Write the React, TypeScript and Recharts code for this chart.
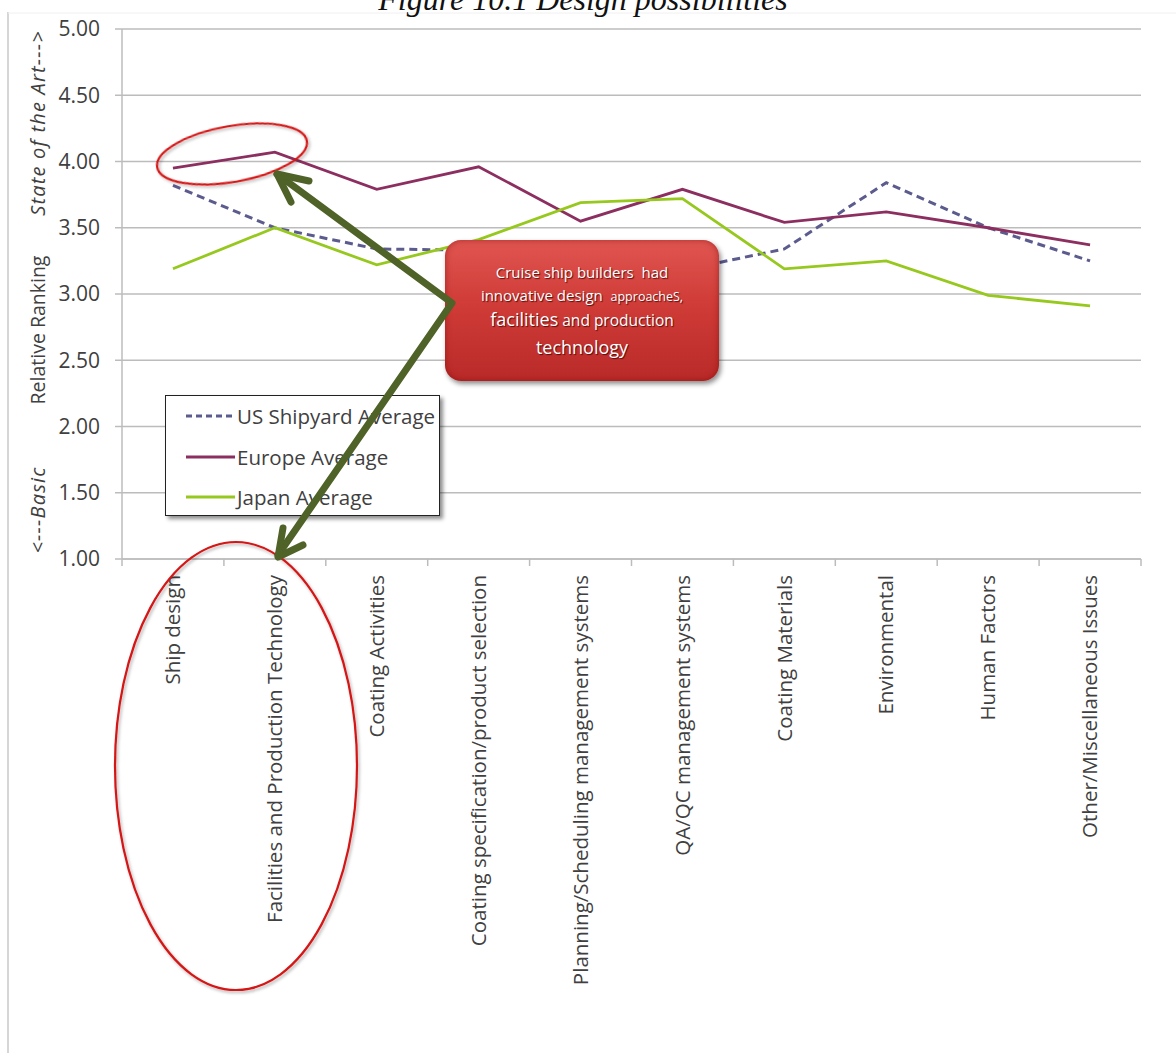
import React from "react";
import { LineChart, Line, XAxis, YAxis, CartesianGrid, Legend } from "recharts";

document.body.style.margin = "0";

const categories = [
  "Ship design",
  "Facilities and Production Technology",
  "Coating Activities",
  "Coating specification/product selection",
  "Planning/Scheduling management systems",
  "QA/QC management systems",
  "Coating Materials",
  "Environmental",
  "Human Factors",
  "Other/Miscellaneous Issues",
];

const usShipyard = [3.82, 3.5, 3.34, 3.33, 3.25, 3.18, 3.34, 3.84, 3.5, 3.25];
const europe = [3.95, 4.07, 3.79, 3.96, 3.55, 3.79, 3.54, 3.62, 3.5, 3.37];
const japan = [3.19, 3.5, 3.22, 3.41, 3.69, 3.72, 3.19, 3.25, 2.99, 2.91];

const yTicks = [1, 1.5, 2, 2.5, 3, 3.5, 4, 4.5, 5];

const data = categories.map((c, i) => ({
  category: c,
  us: usShipyard[i],
  europe: europe[i],
  japan: japan[i],
}));

const W = 1176;
const H = 1053;
const PLOT_LEFT = 122;
const PLOT_RIGHT = 1141;
const STEP = (PLOT_RIGHT - PLOT_LEFT) / categories.length;
const FONT = "'Open Sans', sans-serif";
const GRID = "#bcbcbc";

const XTick = (props: any) => {
  const { x, y, payload, index } = props;
  const ty = y + 16;
  return (
    <g>
      <line x1={x - STEP / 2} x2={x - STEP / 2} y1={y} y2={y + 7} stroke={GRID} strokeWidth={1.5} />
      {index === categories.length - 1 && (
        <line x1={x + STEP / 2} x2={x + STEP / 2} y1={y} y2={y + 7} stroke={GRID} strokeWidth={1.5} />
      )}
      <text
        x={x}
        y={ty}
        transform={`rotate(-90, ${x}, ${ty})`}
        textAnchor="end"
        dy="0.35em"
        fontSize={20.5}
        fontFamily={FONT}
        fill="#404040"
      >
        {payload.value}
      </text>
    </g>
  );
};

const legendItems = [
  { name: "US Shipyard Average", color: "#5b5b8e", dash: "6 4" },
  { name: "Europe Average", color: "#8c2f60", dash: undefined },
  { name: "Japan Average", color: "#96c81e", dash: undefined },
];

const LegendBox = () => (
  <div
    style={{
      width: 275,
      height: 121,
      border: "1.5px solid #222",
      background: "#fff",
      boxShadow: "3px 3px 4px rgba(0,0,0,0.45)",
      boxSizing: "border-box",
    }}
  >
    {legendItems.map((it) => (
      <div key={it.name} style={{ display: "flex", alignItems: "center", height: 40.5, whiteSpace: "nowrap" }}>
        <svg width={70} height={10} style={{ flexShrink: 0 }}>
          <line x1={20} x2={69} y1={5} y2={5} stroke={it.color} strokeWidth={3} strokeDasharray={it.dash} />
        </svg>
        <span style={{ fontFamily: FONT, fontSize: 20.5, color: "#404040", marginLeft: 1 }}>{it.name}</span>
      </div>
    ))}
  </div>
);

export default function App() {
  return (
    <div style={{ position: "relative", width: W, height: H, background: "#fff", overflow: "hidden" }}>
      <LineChart width={W} height={H} data={data} margin={{ top: 29, right: W - PLOT_RIGHT, bottom: 0, left: 0 }}>
        <CartesianGrid vertical={false} stroke={GRID} strokeWidth={1.5} />
        <XAxis
          dataKey="category"
          interval={0}
          height={H - 559}
          padding={{ left: STEP / 2, right: STEP / 2 }}
          tickLine={false}
          tickSize={0}
          tickMargin={0}
          axisLine={{ stroke: GRID, strokeWidth: 1.5 }}
          tick={<XTick />}
        />
        <YAxis
          width={PLOT_LEFT}
          domain={[1, 5]}
          ticks={yTicks}
          tickFormatter={(v: number) => v.toFixed(2)}
          tickSize={7}
          tickMargin={15}
          tickLine={{ stroke: GRID, strokeWidth: 1.5 }}
          axisLine={{ stroke: GRID, strokeWidth: 1.5 }}
          tick={{ fontSize: 21, fontFamily: FONT, fill: "#404040" }}
        />
        <Legend
          layout="horizontal"
          verticalAlign="middle"
          align="center"
          content={<LegendBox />}
          wrapperStyle={{ position: "absolute", left: 165, top: 395, width: 275, height: 121 }}
        />
        <Line
          name="US Shipyard Average"
          dataKey="us"
          stroke="#5b5b8e"
          strokeWidth={3}
          strokeDasharray="8 5"
          dot={false}
          isAnimationActive={false}
        />
        <Line
          name="Europe Average"
          dataKey="europe"
          stroke="#8c2f60"
          strokeWidth={2.8}
          dot={false}
          isAnimationActive={false}
        />
        <Line
          name="Japan Average"
          dataKey="japan"
          stroke="#96c81e"
          strokeWidth={2.8}
          dot={false}
          isAnimationActive={false}
        />
      </LineChart>

      {/* frame, title and axis captions */}
      <svg width={W} height={H} style={{ position: "absolute", left: 0, top: 0, pointerEvents: "none" }}>
        <line x1={8} x2={8} y1={12} y2={H} stroke="#c8c8c8" strokeWidth={1.5} />
        <line x1={8} x2={W} y1={13} y2={13} stroke="#f0f0f0" strokeWidth={1} />
        <text x={583} y={10} textAnchor="middle" fontFamily="'Liberation Serif', serif" fontStyle="italic" fontSize={32} fill="#111">
          Figure 10.1 Design possibilities
        </text>
        <text x={45} y={330} transform="rotate(-90, 45, 330)" textAnchor="middle" fontFamily={FONT} fontSize={19.5} fill="#404040">
          Relative Ranking
        </text>
        <text x={45} y={123} transform="rotate(-90, 45, 123)" textAnchor="middle" fontFamily={FONT} fontStyle="italic" fontSize={20} letterSpacing={1.2} fill="#404040">
          State of the Art---&gt;
        </text>
        <text x={45} y={510} transform="rotate(-90, 45, 510)" textAnchor="middle" fontFamily={FONT} fontStyle="italic" fontSize={20} letterSpacing={1.2} fill="#404040">
          &lt;---Basic
        </text>
      </svg>

      {/* callout */}
      <div
        style={{
          position: "absolute",
          left: 445,
          top: 240,
          width: 274,
          height: 141,
          borderRadius: 16,
          background: "linear-gradient(180deg, #e05550 0%, #d03c38 45%, #b92a28 100%)",
          boxShadow: "2px 3px 5px rgba(0,0,0,0.45), inset 0 0 6px rgba(120,0,0,0.5)",
          color: "#fff",
          fontFamily: FONT,
          textAlign: "center",
          textShadow: "1px 1px 1px rgba(60,0,0,0.8)",
          boxSizing: "border-box",
          paddingTop: 21,
          lineHeight: "23px",
        }}
      >
        <div style={{ fontSize: 15 }}>Cruise ship builders&nbsp; had</div>
        <div style={{ fontSize: 15 }}>
          innovative design&nbsp; <span style={{ fontSize: 12.5 }}>approacheS,</span>
        </div>
        <div style={{ fontSize: 15.5 }}>
          <span style={{ fontSize: 18 }}>facilities</span> and production
        </div>
        <div style={{ fontSize: 18, marginTop: 4 }}>technology</div>
      </div>

      {/* ellipses and arrows */}
      <svg width={W} height={H} style={{ position: "absolute", left: 0, top: 0, pointerEvents: "none" }}>
        <defs>
          <filter id="sh" x="-20%" y="-20%" width="140%" height="140%">
            <feDropShadow dx="1.5" dy="2" stdDeviation="1.5" floodColor="#000" floodOpacity="0.3" />
          </filter>
        </defs>
        <ellipse cx={232} cy={154} rx={76} ry={28} transform="rotate(-10, 232, 154)" fill="none" stroke="#d41414" strokeWidth={2.2} filter="url(#sh)" />
        <ellipse cx={236} cy={766} rx={121} ry={224} fill="none" stroke="#d41414" strokeWidth={2.2} filter="url(#sh)" />
        <g stroke="#4f6228" strokeWidth={7} strokeLinecap="round" strokeLinejoin="round" fill="none">
          <polyline points="277,174 452,303 278,555" />
          <polyline points="309,181 277,174 291,202" />
          <polyline points="303,545 278,557 283,528" />
        </g>
      </svg>
    </div>
  );
}
